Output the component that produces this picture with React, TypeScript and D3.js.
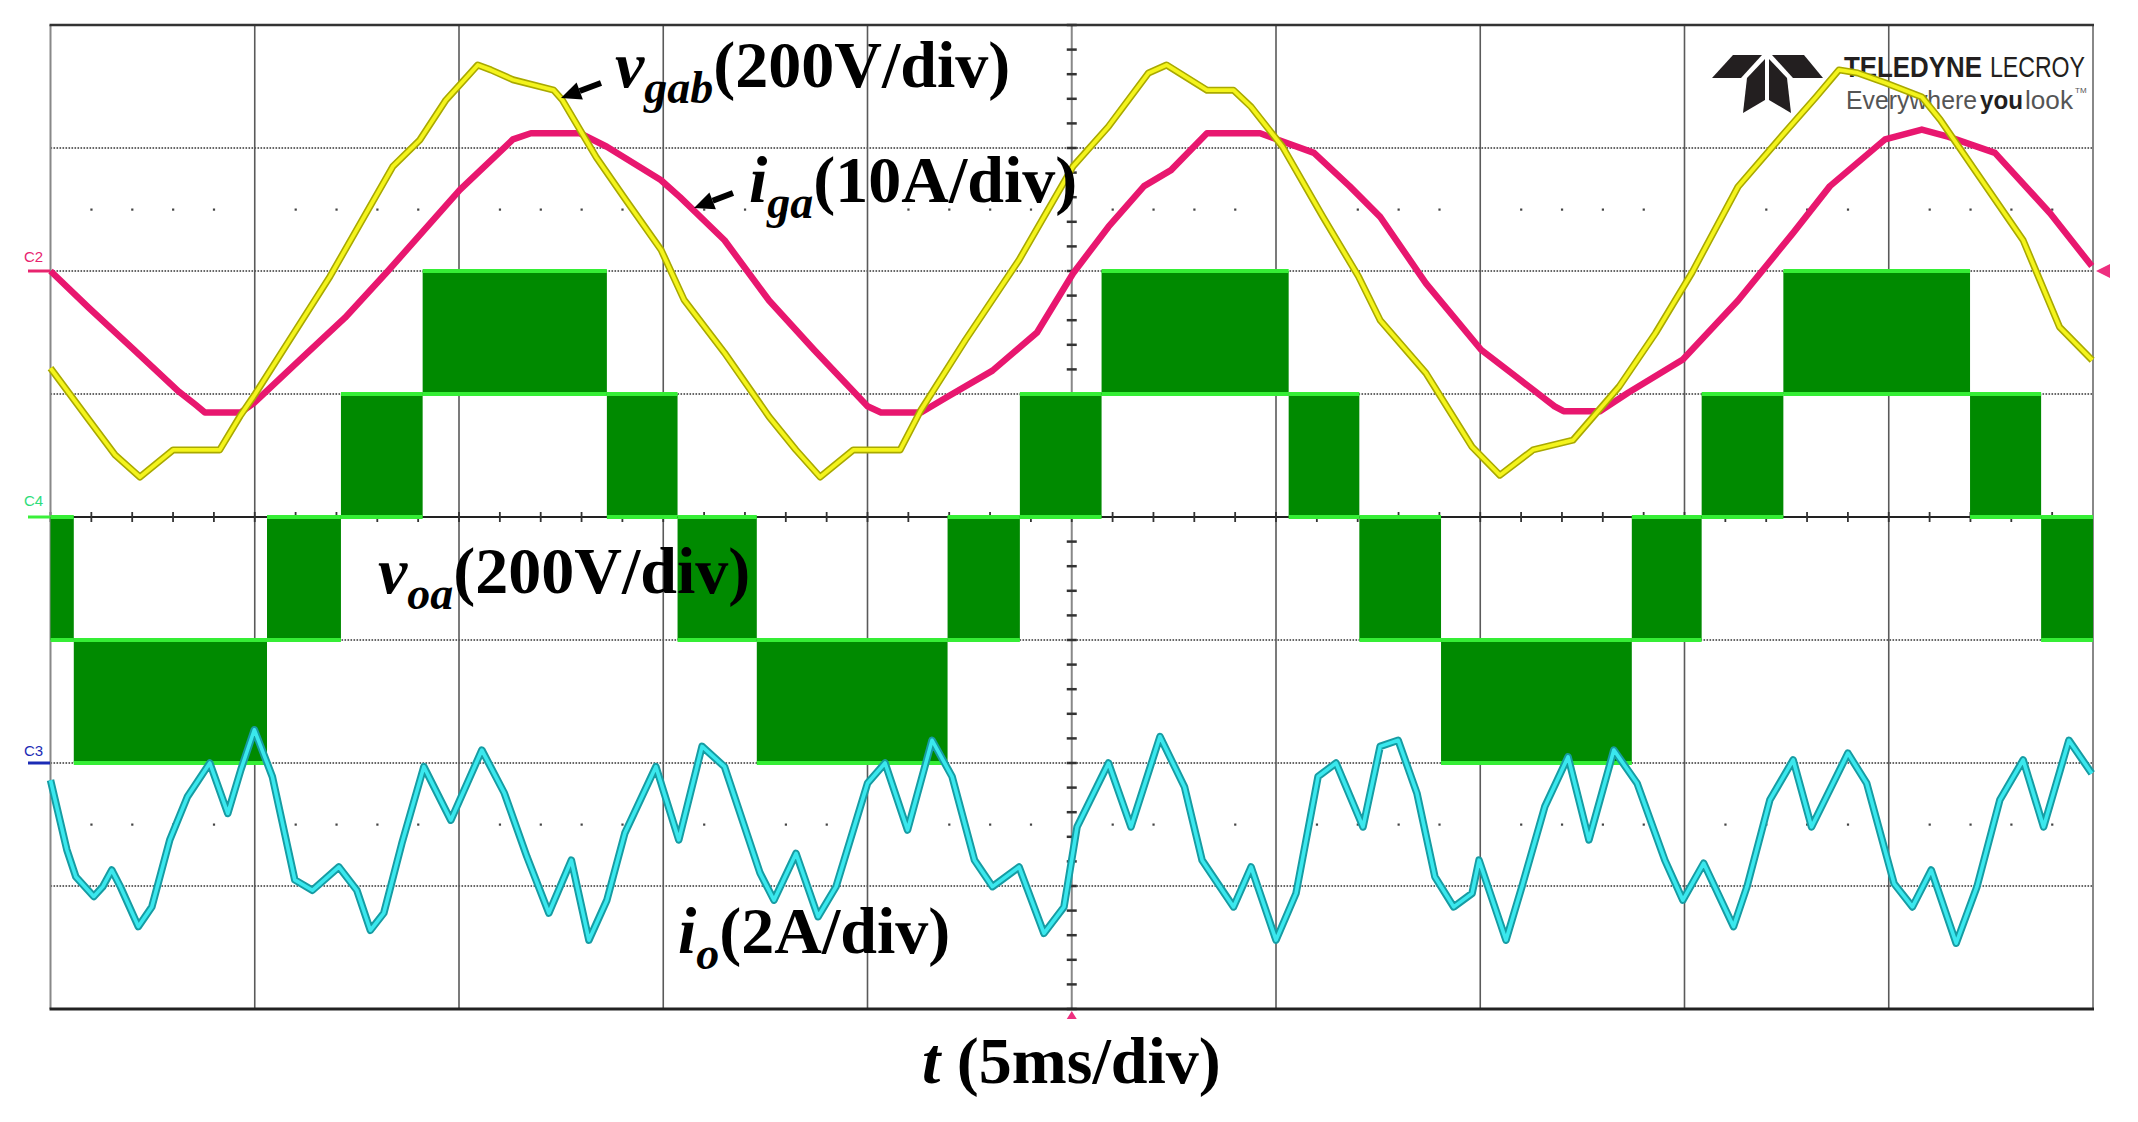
// Captura de osciloscopio: vgab, iga, voa, io (5 ms/div)
import * as d3 from 'd3'

// tiempo en ms, valores en unidades físicas
const igaT = [0, 0.94, 2.04, 3.14, 3.56, 3.78, 4.66, 4.99, 6.11, 7.21, 8.26, 10.02, 11.32, 11.76, 12.96, 13.62, 14.94, 15.41, 16.5, 17.59, 18.69, 20.0, 20.33, 21.31, 21.97, 23.06, 24.15, 25.03, 25.9, 26.77, 27.43, 28.31, 29.61, 30.93, 31.8, 32.55, 33.67, 35.02, 35.92, 36.82, 37.04, 37.93, 38.62, 39.96, 41.31, 42.66, 43.56, 44.91, 45.81, 46.47, 47.6, 48.95, 49.97]
const igaA = [0, -3.0, -6.4, -9.8, -10.9, -11.5, -11.5, -10.7, -7.2, -3.8, 0, 6.6, 10.7, 11.2, 11.2, 10.1, 7.4, 6.0, 2.5, -2.4, -6.4, -11.0, -11.5, -11.5, -10.2, -8.1, -5.0, -0.2, 3.6, 6.9, 8.2, 11.2, 11.2, 9.6, 6.9, 4.4, -1.0, -6.4, -8.7, -11.0, -11.4, -11.4, -9.9, -7.2, -2.4, 3.1, 6.9, 10.7, 11.5, 10.9, 9.6, 4.7, 0.4]

const vgabT = [0, 0.94, 1.58, 2.19, 3.0, 3.9, 4.14, 4.64, 5.01, 6.84, 8.38, 9.04, 9.68, 10.46, 10.78, 11.32, 12.32, 12.53, 13.36, 14.09, 14.95, 15.51, 16.5, 17.59, 18.25, 18.84, 19.65, 20.8, 21.31, 22.4, 23.71, 25.03, 25.9, 26.88, 27.32, 28.31, 28.96, 29.39, 30.16, 31.15, 32.02, 32.55, 33.67, 34.8, 35.48, 36.29, 37.27, 38.4, 39.29, 40.18, 41.31, 42.44, 43.22, 43.78, 44.24, 44.91, 45.81, 46.26, 47.16, 48.29, 49.18, 49.98]
const vgabV = [-158, -242, -299, -335, -291, -291, -291, -236, -200, -9, 170, 213, 278, 335, 327, 311, 294, 278, 185, 115, 34, -47, -133, -237, -291, -335, -291, -291, -226, -112, 18, 170, 235, 322, 335, 294, 294, 267, 202, 88, -9, -80, -166, -286, -332, -291, -275, -188, -101, -3, 137, 224, 283, 327, 322, 306, 283, 246, 159, 50, -91, -145]

// voa: tramos PWM entre dos niveles
const voaEdges = [0, 0.57, 5.3, 7.11, 9.11, 13.62, 15.35, 17.29, 21.96, 23.73, 25.73, 30.31, 32.04, 34.04, 38.71, 40.42, 42.42, 46.99, 48.73, 50]
const voaHigh = [0, -200, 0, 200, 400, 200, 0, -200, 0, 200, 400, 200, 0, -200, 0, 200, 400, 200, 0]
const voaLow = [-200, -400, -200, 0, 200, 0, -200, -400, -200, 0, 200, 0, -200, -400, -200, 0, 200, 0, -200]

const ioT = [0, 0.4, 0.62, 1.06, 1.28, 1.5, 1.71, 2.15, 2.48, 2.92, 3.35, 3.9, 4.34, 4.66, 4.99, 5.43, 5.98, 6.41, 7.06, 7.5, 7.83, 8.16, 8.6, 9.14, 9.8, 10.56, 11.11, 11.66, 12.2, 12.75, 13.18, 13.62, 14.06, 14.82, 15.38, 15.95, 16.5, 17.37, 17.71, 18.25, 18.79, 19.23, 20.0, 20.43, 20.98, 21.58, 22.07, 22.62, 23.06, 23.71, 24.32, 24.81, 25.13, 25.9, 26.45, 27.16, 27.76, 28.19, 28.96, 29.39, 30.0, 30.49, 31.03, 31.47, 32.13, 32.55, 32.99, 33.45, 33.89, 34.35, 34.8, 34.97, 35.63, 36.02, 36.58, 37.15, 37.66, 38.27, 38.84, 39.52, 39.96, 40.47, 41.2, 41.53, 42.09, 42.66, 43.11, 44.0, 44.46, 45.13, 45.58, 46.04, 46.65, 47.16, 47.72, 48.29, 48.79, 49.41, 49.97]
const ioA = [-0.28, -1.41, -1.85, -2.17, -2.01, -1.74, -2.01, -2.66, -2.34, -1.25, -0.55, 0.0, -0.82, -0.11, 0.54, -0.22, -1.9, -2.07, -1.69, -2.07, -2.72, -2.44, -1.31, -0.06, -0.93, 0.21, -0.49, -1.52, -2.44, -1.58, -2.88, -2.23, -1.14, -0.06, -1.25, 0.27, -0.06, -1.79, -2.23, -1.47, -2.5, -2.01, -0.33, 0.0, -1.09, 0.37, -0.22, -1.58, -2.01, -1.69, -2.77, -2.34, -1.04, 0.0, -1.04, 0.43, -0.39, -1.58, -2.34, -1.69, -2.88, -2.12, -0.22, 0.0, -1.04, 0.27, 0.37, -0.49, -1.85, -2.34, -2.12, -1.58, -2.88, -2.01, -0.71, 0.1, -1.25, 0.21, -0.33, -1.58, -2.23, -1.63, -2.66, -2.01, -0.6, 0.05, -1.04, 0.16, -0.33, -1.96, -2.34, -1.74, -2.93, -2.01, -0.6, 0.05, -1.04, 0.37, -0.17]

const W = 2138
const H = 1122
const frame = { left: 50.5, right: 2093, top: 25, bottom: 1009 }
const serif = "'Liberation Serif', 'Times New Roman', serif"
const sans = "'Liberation Sans', Arial, sans-serif"

export default function App() {
  const x = d3.scaleLinear().domain([0, 50]).range([frame.left, frame.right])
  const yDiv = d3.scaleLinear().domain([-4, 4]).range([frame.bottom, frame.top])
  // cada canal: escala por división y posición del cero
  const chan = (perDiv: number, offset: number) => (v: number) => yDiv(v / perDiv + offset)
  const yIga = chan(10, 2)
  const yVgab = chan(200, 2)
  const yVoa = chan(200, 0)
  const yIo = chan(2, -2)

  const mkLine = (ts: number[], vs: number[], fy: (v: number) => number) =>
    d3.line<number>().x(i => x(ts[i])).y(i => fy(vs[i]))(d3.range(ts.length)) || ''

  const igaPath = mkLine(igaT, igaA, yIga)
  const vgabPath = mkLine(vgabT, vgabV, yVgab)
  const ioPath = mkLine(ioT, ioA, yIo)

  const majorX = d3.range(0, 51, 5)
  const majorY = d3.range(-4, 5, 1)
  const minorX = d3.range(0, 50.001, 1)
  const minorY = d3.range(-4, 4.001, 0.2)
  const dotsX = minorX.filter(t => t % 5 !== 0)

  return (
    <svg width={W} height={H} style={{ position: 'absolute', left: 0, top: 0, background: '#fff' }}>
      <rect width={W} height={H} fill="#fff" />

      {/* rejilla */}
      {majorY.filter(d => d !== 0 && Math.abs(d) !== 4).map(d => (
        <line key={'hy' + d} x1={frame.left} x2={frame.right} y1={yDiv(d)} y2={yDiv(d)}
          stroke="#666" strokeWidth={2.2} strokeDasharray="1.6 1.4" />
      ))}
      {majorX.filter(t => t !== 0 && t !== 50 && t !== 25).map(t => (
        <line key={'vx' + t} x1={x(t)} x2={x(t)} y1={frame.top} y2={frame.bottom}
          stroke="#5a5a5a" strokeWidth={1.6} />
      ))}
      {[2.5, -2.5].map(r => dotsX.map(t => (
        <rect key={'dot' + r + '_' + t} x={x(t) - 1} y={yDiv(r) - 1} width={2.2} height={2.2} fill="#444" />
      )))}
      {/* eje central vertical con marcas */}
      <line x1={x(25)} x2={x(25)} y1={frame.top} y2={frame.bottom} stroke="#888" strokeWidth={2} />
      {minorY.map(d => (
        <line key={'ty' + d} x1={x(25) - 5} x2={x(25) + 5} y1={yDiv(d)} y2={yDiv(d)} stroke="#333" strokeWidth={2.5} />
      ))}
      {/* eje central horizontal con marcas */}
      <line x1={frame.left} x2={frame.right} y1={yDiv(0)} y2={yDiv(0)} stroke="#222" strokeWidth={2.2} />
      {minorX.map(t => (
        <line key={'tx' + t} x1={x(t)} x2={x(t)} y1={yDiv(0) - 5} y2={yDiv(0) + 5} stroke="#333" strokeWidth={1.8} />
      ))}

      {/* marco */}
      <line x1={frame.left} x2={frame.left} y1={frame.top} y2={frame.bottom} stroke="#888" strokeWidth={2} />
      <line x1={frame.right} x2={frame.right} y1={frame.top} y2={frame.bottom} stroke="#888" strokeWidth={2} />
      <line x1={frame.left - 1} x2={frame.right + 1} y1={frame.top} y2={frame.top} stroke="#333" strokeWidth={2.5} />
      <line x1={frame.left - 1} x2={frame.right + 1} y1={frame.bottom} y2={frame.bottom} stroke="#222" strokeWidth={3.2} />

      {/* logo */}
      <g fill="#231f20">
        <polygon points="1712,78 1733,55 1762,55 1741,78" />
        <polygon points="1747,78 1765,59 1765,100 1743,113" />
        <polygon points="1769,59 1787,78 1791,113 1769,100" />
        <polygon points="1772,55 1804,55 1823,78 1793,78" />
      </g>
      <g fontFamily={sans}>
        <text x={1844} y={77} fontSize={29} fontWeight="bold" fill="#231f20" textLength={138} lengthAdjust="spacingAndGlyphs">TELEDYNE</text>
        <text x={1990} y={77} fontSize={29} fill="#231f20" textLength={95} lengthAdjust="spacingAndGlyphs">LECROY</text>
        <text x={1846} y={109} fontSize={26} fill="#555" textLength={131} lengthAdjust="spacingAndGlyphs">Everywhere</text>
        <text x={1980} y={109} fontSize={26} fontWeight="bold" fill="#231f20" textLength={43} lengthAdjust="spacingAndGlyphs">you</text>
        <text x={2025} y={109} fontSize={26} fill="#555" textLength={48} lengthAdjust="spacingAndGlyphs">look</text>
        <text x={2075} y={93} fontSize={8} fill="#555">TM</text>
      </g>

      {/* voa: bloques PWM */}
      {voaHigh.map((hi, i) => {
        const x0 = x(voaEdges[i]), x1 = x(voaEdges[i + 1])
        const yh = yVoa(hi), yl = yVoa(voaLow[i])
        return (
          <g key={'voa' + i}>
            <rect x={x0} y={yh} width={x1 - x0} height={yl - yh} fill="#008a00" />
            <line x1={x0} x2={x1} y1={yh} y2={yh} stroke="#35ee35" strokeWidth={4} />
            <line x1={x0} x2={x1} y1={yl} y2={yl} stroke="#35ee35" strokeWidth={4} />
          </g>
        )
      })}

      {/* iga */}
      <path d={igaPath} fill="none" stroke="#e8176f" strokeWidth={6.5} strokeLinejoin="round" />
      {/* vgab */}
      <path d={vgabPath} fill="none" stroke="#a9a900" strokeWidth={7} strokeLinejoin="round" />
      <path d={vgabPath} fill="none" stroke="#f4f41c" strokeWidth={3.8} strokeLinejoin="round" />
      {/* io */}
      <path d={ioPath} fill="none" stroke="#169ca3" strokeWidth={7.5} strokeLinejoin="round" />
      <path d={ioPath} fill="none" stroke="#3ae8ee" strokeWidth={3.6} strokeLinejoin="round" />

      {/* marcadores de canal */}
      <g fontFamily={sans} fontSize={15}>
        <text x={24} y={262} fill="#e8246e">C2</text>
        <line x1={28} x2={50} y1={yIga(0)} y2={yIga(0)} stroke="#e8246e" strokeWidth={3} />
        <text x={24} y={506} fill="#2edd7a">C4</text>
        <line x1={28} x2={50} y1={yVoa(0)} y2={yVoa(0)} stroke="#3af03a" strokeWidth={3} />
        <text x={24} y={756} fill="#1b2bb5">C3</text>
        <line x1={28} x2={50} y1={yIo(0)} y2={yIo(0)} stroke="#1b2bb5" strokeWidth={3} />
      </g>
      <polygon points={`${frame.right + 3},${yIga(0)} ${frame.right + 17},${yIga(0) - 7} ${frame.right + 17},${yIga(0) + 7}`} fill="#ee2f7f" />
      <polygon points={`${x(25)},${frame.bottom + 2} ${x(25) - 5},${frame.bottom + 10} ${x(25) + 5},${frame.bottom + 10}`} fill="#ee2f7f" />

      {/* etiquetas */}
      <g fontFamily={serif} fontWeight="bold" fill="#000">
        <text x={615} y={87} fontSize={66}>
          <tspan fontStyle="italic">v</tspan>
          <tspan fontStyle="italic" fontSize={46} dy={16}>gab</tspan>
          <tspan dy={-16}>(200V/div)</tspan>
        </text>
        <text x={749} y={202} fontSize={66}>
          <tspan fontStyle="italic">i</tspan>
          <tspan fontStyle="italic" fontSize={46} dy={16}>ga</tspan>
          <tspan dy={-16}>(10A/div)</tspan>
        </text>
        <text x={378} y={593} fontSize={66}>
          <tspan fontStyle="italic">v</tspan>
          <tspan fontStyle="italic" fontSize={46} dy={16}>oa</tspan>
          <tspan dy={-16}>(200V/div)</tspan>
        </text>
        <text x={678} y={953} fontSize={66}>
          <tspan fontStyle="italic">i</tspan>
          <tspan fontStyle="italic" fontSize={46} dy={16}>o</tspan>
          <tspan dy={-16}>(2A/div)</tspan>
        </text>
        <text x={922} y={1083} fontSize={66}>
          <tspan fontStyle="italic">t</tspan> (5ms/div)
        </text>
      </g>

      {/* flechas */}
      {[[601, 83, 561, 98], [733, 193, 694, 208]].map(([x1, y1, x2, y2], i) => {
        const a = Math.atan2(y2 - y1, x2 - x1)
        const L = 20, w = 9
        const bx = x2 - L * Math.cos(a), by = y2 - L * Math.sin(a)
        const px = -Math.sin(a) * w, py = Math.cos(a) * w
        return (
          <g key={'arr' + i}>
            <line x1={x1} y1={y1} x2={bx} y2={by} stroke="#000" strokeWidth={6} />
            <polygon points={`${x2},${y2} ${bx + px},${by + py} ${bx - px},${by - py}`} fill="#000" />
          </g>
        )
      })}
    </svg>
  )
}
